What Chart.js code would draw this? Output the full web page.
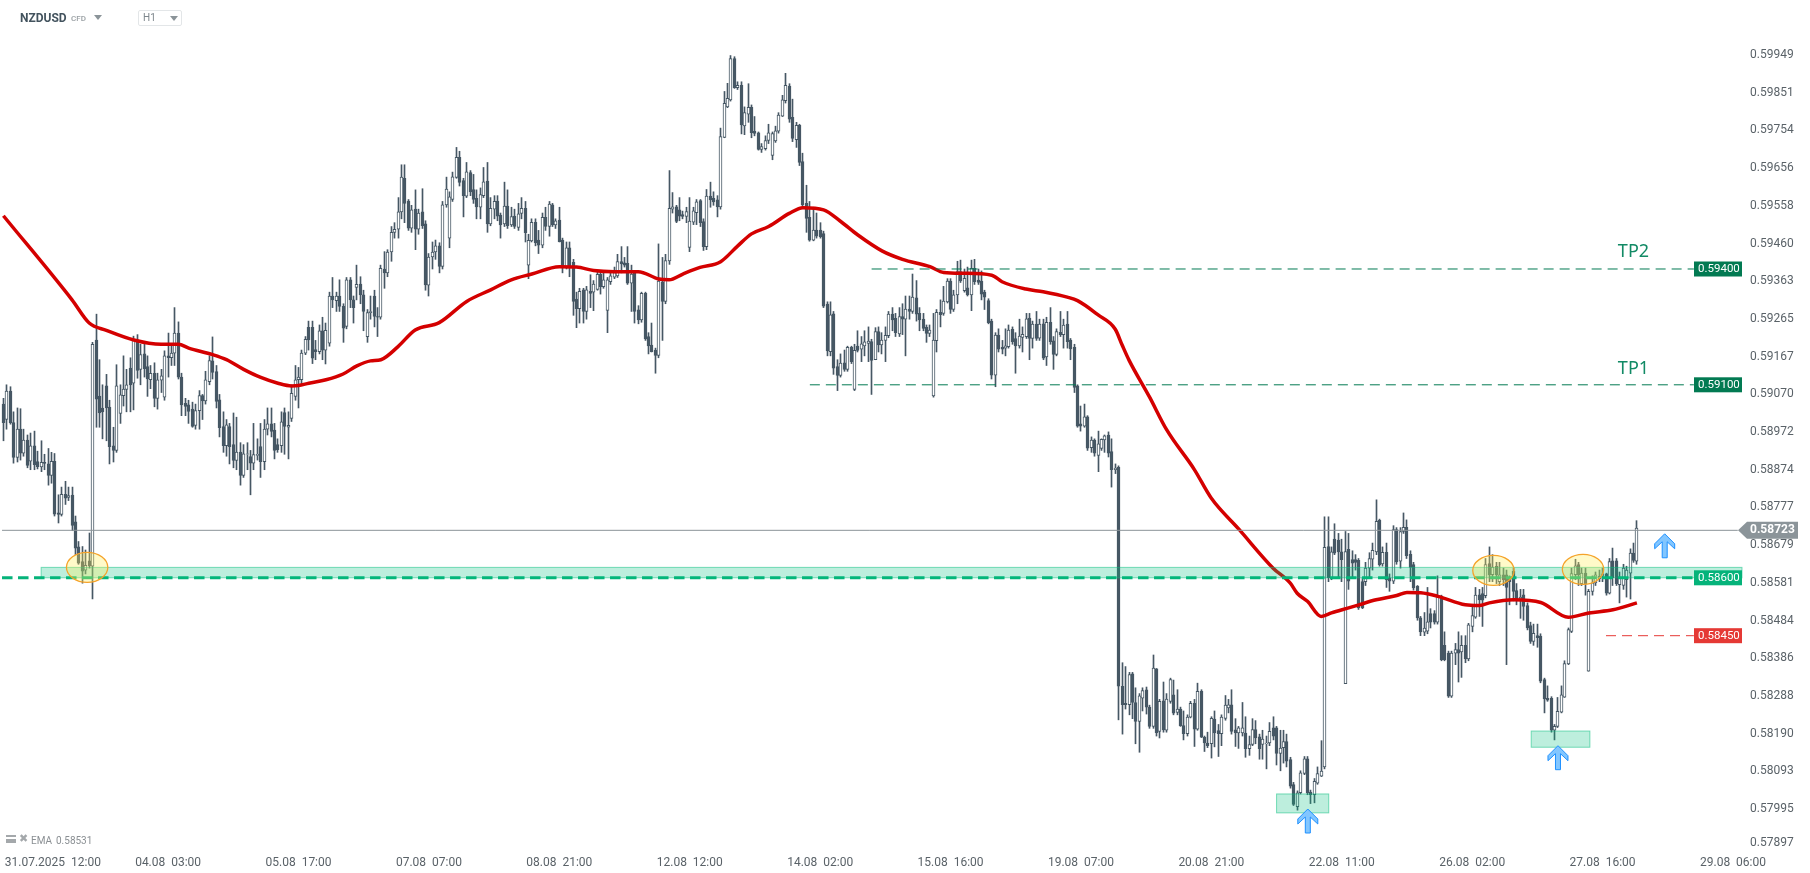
<!DOCTYPE html>
<html>
<head>
<meta charset="utf-8">
<title>NZDUSD H1</title>
<script src="https://cdn.jsdelivr.net/npm/chart.js@4/dist/chart.umd.min.js"></script>
<style>
html,body{margin:0;padding:0;background:#fff;overflow:hidden;}
#wrap{position:relative;width:1810px;height:873px;font-family:Roboto,sans-serif;}
canvas{position:absolute;left:0;top:0;}
.abs{position:absolute;white-space:nowrap;}
.caret{position:absolute;width:0;height:0;border-left:4px solid transparent;border-right:4px solid transparent;border-top:5px solid #8b9499;}
</style>
</head>
<body>
<div id="wrap">
  <canvas id="c" width="1810" height="873"></canvas>
  <div class="abs" style="left:20px;top:11px;font-size:12px;font-weight:700;color:#43535e;">NZDUSD</div>
  <div class="abs" style="left:71px;top:14px;font-size:8px;font-weight:500;color:#9aa0a4;">CFD</div>
  <div class="caret" style="left:94px;top:15px;"></div>
  <div class="abs" style="left:138px;top:10px;width:42px;height:14px;border:1px solid #e3e6e8;border-radius:2px;"></div>
  <div class="abs" style="left:143px;top:12px;font-size:10px;color:#7d868c;">H1</div>
  <div class="caret" style="left:170px;top:16px;"></div>
  <div class="abs" style="left:6px;top:835px;width:10px;height:2px;border-top:2px solid #a4a8ab;border-bottom:2px solid #a4a8ab;"></div>
  <div class="abs" style="left:6px;top:841px;width:10px;height:2px;background:#a4a8ab;"></div>
  <div class="abs" style="left:19px;top:832px;font-size:11px;color:#a4a8ab;font-family:'DejaVu Sans';">✖</div>
  <div class="abs" style="left:31px;top:835px;font-size:10px;color:#8a8f93;">EMA</div>
  <div class="abs" style="left:56px;top:835px;font-size:10px;color:#8a8f93;">0.58531</div>
</div>
<script>
// prices in 1/100000 (10 bars a row)
const opens = [
59050,59010,59084,59002,58912,58985,58923,58957,58902,58942,
58901,58887,58899,58895,58865,58902,58768,58764,58816,58808,
58814,58745,58680,58642,58620,58644,58630,59216,59071,59040,
59097,59042,58942,58930,59026,59072,59088,59143,59104,59216,
59140,59180,59147,59113,59130,59065,59112,59068,59175,59170,
59182,59234,59120,59052,59048,59037,58995,59033,59072,59058,
59108,59162,59134,59061,58992,58942,58992,58945,58904,58926,
58865,58920,58914,58897,58917,58940,58901,58985,58999,58983,
58945,58942,59028,58990,59013,59070,59113,59113,59182,59249,
59249,59191,59186,59240,59190,59208,59330,59318,59330,59303,
59251,59372,59320,59352,59361,59333,59225,59287,59330,59277,
59275,59400,59390,59444,59495,59503,59548,59635,59576,59506,
59555,59503,59548,59517,59358,59431,59444,59460,59407,59566,
59480,59580,59637,59689,59629,59589,59650,59606,59583,59560,
59590,59628,59517,59555,59576,59540,59517,59563,59514,59537,
59508,59544,59557,59410,59473,59521,59475,59462,59534,59510,
59566,59514,59527,59475,59405,59455,59417,59322,59297,59346,
59290,59342,59340,59347,59386,59354,59293,59367,59379,59382,
59419,59416,59415,59363,59389,59294,59268,59337,59225,59203,
59190,59176,59367,59316,59421,59555,59561,59553,59541,59536,
59456,59521,59546,59577,59523,59458,59589,59583,59579,59561,
59741,59820,59838,59945,59870,59876,59771,59801,59819,59757,
59753,59710,59712,59733,59694,59732,59757,59796,59836,59874,
59793,59735,59772,59678,59570,59534,59475,59501,59501,59492,
59309,59186,59284,59147,59124,59157,59140,59197,59088,59200,
59192,59201,59207,59212,59165,59238,59203,59215,59227,59283,
59272,59232,59277,59270,59296,59290,59325,59285,59270,59249,
59233,59071,59214,59288,59285,59315,59369,59295,59333,59393,
59344,59351,59333,59402,59371,59369,59340,59318,59265,59125,
59229,59197,59195,59199,59244,59220,59201,59223,59225,59273,
59220,59257,59221,59258,59172,59262,59214,59179,59236,59230,
59257,59216,59197,59097,58999,58993,59017,58937,58957,58917,
58935,58957,58970,58927,58880,58886,58319,58275,58271,58351,
58277,58228,58288,58310,58265,58215,58364,58202,58281,58205,
58280,58297,58251,58260,58217,58196,58239,58275,58208,58306,
58187,58172,58170,58234,58204,58196,58236,58263,58271,58206,
58198,58198,58198,58157,58168,58207,58188,58168,58170,58172,
58211,58211,58145,58160,58176,58129,58064,58007,58043,58093,
58131,58045,58038,58068,58086,58110,58681,58600,58700,58698,
58667,58326,58674,58647,58647,58645,58590,58590,58625,58648,
58667,58749,58636,58666,58600,58591,58725,58643,58720,58731,
58661,58634,58578,58496,58459,58462,58507,58507,58485,58552,
58425,58405,58293,58405,58414,58408,58425,58390,58474,58498,
58556,58559,58554,58637,58608,58630,58590,58608,58608,58600,
58617,58567,58545,58556,58528,58476,58435,58450,58449,58336,
58288,58288,58205,58215,58252,58291,58377,58461,58608,58634,
58585,58612,58358,58565,58587,58598,58604,58610,58560,58644,
58644,58582,58580,58595,58612,58664,58643];
const closes = [
59002,59084,59002,58912,58985,58923,58957,58891,58942,58893,
58888,58899,58896,58865,58902,58765,58764,58816,58806,58813,
58736,58677,58638,58617,58632,58631,59205,59063,59027,59030,
59040,58940,58930,59097,59074,59089,59100,59100,59216,59137,
59178,59142,59115,59130,59065,59113,59123,59175,59170,59182,
59234,59120,59048,59044,59031,58992,59033,59072,59058,59113,
59163,59132,59057,58989,58942,58996,58940,58904,58926,58865,
58921,58921,58897,58919,58920,58901,58985,58999,58979,58930,
58932,59004,58992,58995,59078,59113,59120,59182,59218,59216,
59169,59186,59240,59190,59241,59330,59320,59330,59303,59247,
59372,59320,59300,59360,59333,59290,59287,59290,59277,59275,
59402,59390,59444,59495,59503,59548,59638,59570,59506,59553,
59503,59545,59512,59359,59431,59444,59460,59407,59566,59607,
59587,59639,59689,59624,59590,59652,59600,59580,59561,59593,
59626,59517,59557,59575,59537,59514,59563,59512,59536,59510,
59543,59557,59494,59474,59521,59468,59462,59534,59510,59568,
59514,59525,59471,59408,59455,59408,59316,59297,59342,59290,
59346,59337,59361,59386,59354,59372,59372,59382,59391,59419,
59413,59410,59363,59387,59290,59268,59337,59219,59201,59186,
59176,59369,59316,59422,59557,59561,59523,59537,59536,59549,
59524,59551,59574,59520,59458,59589,59579,59574,59561,59743,
59829,59842,59945,59870,59876,59773,59805,59819,59753,59751,
59710,59717,59733,59753,59751,59758,59799,59838,59876,59788,
59738,59772,59676,59566,59531,59475,59501,59485,59484,59304,
59188,59281,59143,59124,59156,59140,59197,59160,59189,59189,
59206,59211,59213,59163,59238,59203,59216,59228,59283,59268,
59235,59277,59270,59296,59290,59327,59283,59268,59246,59233,
59242,59216,59288,59282,59317,59369,59295,59333,59393,59369,
59376,59333,59402,59367,59365,59335,59327,59261,59125,59229,
59192,59192,59201,59242,59212,59201,59226,59231,59271,59220,
59257,59220,59257,59169,59262,59212,59179,59238,59230,59255,
59212,59193,59093,58993,58993,59017,58936,58957,58923,58947,
58959,58968,58923,58880,58884,58319,58271,58271,58349,58277,
58228,58294,58308,58265,58215,58366,58199,58280,58206,58286,
58336,58249,58260,58217,58196,58239,58275,58208,58306,58187,
58172,58165,58236,58198,58196,58239,58270,58271,58202,58198,
58211,58211,58157,58168,58207,58185,58157,58182,58172,58202,
58190,58145,58159,58176,58125,58060,58013,58043,58095,58131,
58043,58038,58073,58093,58099,58679,58600,58667,58664,58667,
58647,58668,58591,58638,58640,58522,58522,58625,58650,58671,
58746,58634,58666,58595,58591,58725,58641,58720,58731,58657,
58627,58574,58496,58460,58470,58486,58485,58485,58552,58388,
58388,58293,58405,58414,58405,58425,58390,58478,58502,58555,
58543,58542,58634,58608,58628,58608,58608,58595,58575,58590,
58565,58545,58550,58526,58470,58435,58456,58445,58332,58286,
58283,58205,58215,58254,58297,58378,58466,58611,58631,58608,
58612,58585,58565,58587,58608,58604,58610,58560,58642,58600,
58585,58600,58625,58620,58664,58645,58729];
const highs = [
59065,59100,59095,59030,59040,59038,58985,58970,58975,58980,
58928,58955,58920,58935,58925,58922,58815,58835,58850,58835,
58835,58760,58694,58681,58672,58716,59210,59283,59165,59100,
59127,59060,58990,59152,59100,59175,59140,59170,59226,59230,
59205,59210,59175,59150,59157,59130,59140,59188,59234,59200,
59300,59263,59130,59065,59060,59055,59050,59085,59075,59135,
59175,59224,59150,59075,59030,59010,59000,59027,59016,58950,
58945,58950,58930,59000,58960,59000,59010,59040,59040,59000,
58960,59030,59040,59030,59100,59150,59145,59190,59225,59265,
59265,59215,59255,59275,59260,59340,59378,59340,59372,59310,
59378,59378,59330,59410,59380,59345,59295,59330,59345,59300,
59410,59445,59450,59510,59520,59585,59670,59670,59580,59565,
59605,59555,59608,59525,59440,59470,59475,59468,59575,59638,
59600,59651,59715,59705,59635,59676,59655,59645,59605,59610,
59663,59676,59585,59590,59590,59545,59625,59605,59560,59555,
59570,59585,59575,59490,59530,59530,59500,59545,59560,59575,
59570,59530,59560,59480,59470,59470,59425,59340,59350,59350,
59355,59385,59370,59395,59395,59395,59378,59395,59405,59438,
59458,59430,59458,59410,59395,59305,59340,59340,59235,59260,
59195,59465,59430,59438,59655,59598,59565,59585,59550,59560,
59585,59560,59580,59580,59530,59606,59625,59600,59590,59765,
59860,59881,59953,59950,59885,59885,59820,59880,59825,59795,
59755,59725,59745,59775,59755,59770,59805,59850,59907,59880,
59840,59780,59775,59700,59617,59575,59560,59545,59520,59498,
59315,59315,59290,59165,59180,59190,59200,59200,59205,59240,
59225,59240,59250,59218,59248,59250,59235,59250,59290,59300,
59285,59300,59310,59330,59330,59387,59370,59300,59285,59255,
59255,59285,59295,59320,59355,59375,59375,59345,59420,59423,
59400,59405,59423,59425,59400,59395,59345,59323,59270,59235,
59245,59215,59245,59255,59250,59235,59270,59250,59285,59285,
59265,59290,59270,59270,59275,59300,59225,59245,59290,59270,
59290,59220,59205,59100,59045,59050,59020,58965,58960,58980,
58960,58970,58978,58960,58895,58890,58380,58370,58355,58355,
58315,58300,58315,58317,58270,58400,58365,58285,58330,58300,
58340,58335,58310,58265,58255,58245,58280,58285,58327,58310,
58190,58200,58240,58255,58220,58245,58295,58285,58310,58235,
58215,58277,58240,58190,58235,58230,58195,58205,58190,58225,
58240,58215,58205,58205,58195,58135,58070,58048,58100,58137,
58137,58050,58080,58110,58178,58758,58758,58680,58740,58715,
58700,58720,58715,58670,58660,58650,58600,58640,58665,58690,
58802,58752,58680,58690,58610,58735,58730,58730,58768,58750,
58670,58640,58580,58500,58510,58575,58520,58515,58605,58555,
58460,58410,58410,58430,58460,58450,58450,58482,58525,58575,
58570,58575,58650,58680,58660,58640,58640,58625,58620,58605,
58625,58585,58570,58570,58535,58485,58480,58480,58455,58340,
58320,58292,58220,58290,58320,58385,58470,58625,58648,58640,
58625,58625,58570,58605,58615,58620,58625,58612,58650,58677,
58650,58615,58635,58630,58675,58690,58748];
const lows = [
58955,58985,58998,58897,58900,58905,58915,58885,58880,58880,
58882,58875,58880,58840,58845,58760,58742,58760,58790,58800,
58722,58660,58635,58586,58610,58625,58545,58990,58990,58960,
58955,58895,58900,58925,59000,59045,59030,59030,59035,59117,
59100,59120,59070,59090,59043,59037,59080,59060,59120,59150,
59150,59115,59020,59020,59000,58990,58985,58985,59010,59050,
59100,59115,59040,58965,58925,58915,58895,58885,58880,58840,
58860,58880,58815,58880,58905,58860,58880,58970,58965,58908,
58925,58925,58920,58908,59005,59060,59040,59100,59178,59190,
59155,59165,59180,59165,59154,59200,59300,59290,59290,59210,
59245,59300,59260,59320,59310,59240,59210,59270,59250,59225,
59270,59350,59380,59420,59480,59480,59530,59520,59500,59495,
59450,59490,59505,59345,59330,59400,59425,59390,59400,59560,
59455,59575,59635,59615,59535,59585,59590,59570,59530,59530,
59585,59495,59512,59530,59525,59480,59510,59505,59510,59505,
59500,59530,59470,59375,59470,59460,59440,59455,59500,59485,
59510,59505,59470,59390,59400,59380,59280,59248,59260,59260,
59270,59300,59292,59345,59335,59350,59235,59360,59375,59378,
59390,59405,59360,59290,59260,59258,59262,59215,59180,59185,
59130,59170,59215,59310,59412,59545,59520,59525,59530,59520,
59445,59515,59515,59510,59448,59450,59560,59565,59535,59555,
59740,59818,59835,59868,59865,59750,59748,59780,59740,59745,
59708,59702,59708,59725,59683,59728,59752,59795,59830,59780,
59730,59715,59668,59560,59495,59472,59473,59480,59480,59300,
59175,59175,59127,59085,59120,59135,59135,59155,59085,59185,
59160,59175,59160,59075,59165,59185,59180,59160,59222,59240,
59225,59225,59230,59175,59270,59285,59265,59240,59240,59210,
59225,59068,59185,59250,59280,59312,59285,59290,59310,59365,
59340,59330,59292,59360,59360,59320,59295,59258,59115,59095,
59185,59180,59175,59195,59205,59130,59195,59185,59220,59165,
59195,59215,59215,59165,59150,59205,59140,59175,59225,59195,
59195,59165,59080,58990,58980,58990,58930,58925,58915,58875,
58930,58925,58913,58835,58870,58232,58195,58260,58245,58235,
58170,58148,58255,58247,58210,58210,58190,58185,58200,58200,
58275,58245,58245,58215,58180,58190,58237,58163,58205,58186,
58150,58160,58133,58162,58137,58165,58231,58250,58195,58163,
58158,58190,58135,58140,58165,58170,58130,58130,58105,58165,
58180,58115,58100,58120,58110,58055,58010,57998,58040,58090,
58038,58015,58017,58065,58085,58105,58590,58595,58660,58600,
58590,58326,58570,58600,58620,58518,58520,58580,58600,58620,
58660,58630,58630,58575,58565,58585,58635,58625,58715,58650,
58590,58568,58490,58450,58450,58455,58470,58480,58480,58385,
58385,58290,58290,58375,58330,58342,58380,58385,58460,58495,
58500,58474,58548,58590,58590,58585,58580,58580,58375,58530,
58540,58530,58495,58490,58465,58430,58425,58420,58328,58250,
58280,58200,58180,58212,58250,58290,58375,58458,58595,58580,
58580,58555,58358,58555,58580,58590,58590,58555,58558,58580,
58580,58535,58570,58550,58545,58640,58635];

// EMA read at the bars where it bends
const emaBars = [0,20,25,30,38,46,51,54,61,65,70,75,80,84,86,89,94,99,103,107,110,115,120,127,135,142,148,154,162,167,172,178,185,191,194,198,203,209,214,218,223,229,233,239,244,249,256,262,270,274,280,288,291,298,303,310,313,319,324,326,328,334,339,347,352,360,370,375,377,380,384,387,392,395,400,406,409,413,418,426,430,433,440,448,456,462,469,476];
const emaValues = [59538,59320,59260,59241,59216,59205,59205,59195,59178,59165,59140,59119,59104,59097,59098,59104,59113,59128,59149,59162,59165,59199,59242,59261,59316,59346,59372,59387,59406,59405,59396,59393,59393,59374,59372,59387,59404,59419,59460,59491,59510,59544,59559,59553,59523,59488,59447,59425,59406,59391,59389,59384,59367,59348,59341,59327,59318,59281,59244,59203,59164,59068,58983,58881,58806,58726,58625,58586,58560,58539,58500,58509,58522,58530,58543,58554,58562,58561,58552,58530,58528,58535,58543,58536,58498,58509,58517,58535];

const xTickBars = [14.4,48,86,124,162,200,238,276,314,352,390,428,466,504];  // first one pushed in, the label would be cut at the edge
const xTickLabels = ['31.07.2025  12:00','04.08  03:00','05.08  17:00','07.08  07:00','08.08  21:00','12.08  12:00','14.08  02:00','15.08  16:00','19.08  07:00','20.08  21:00','22.08  11:00','26.08  02:00','27.08  16:00','29.08  06:00'];
const yTickLabels = ['0.59949','0.59851','0.59754','0.59656','0.59558','0.59460','0.59363','0.59265','0.59167','0.59070','0.58972','0.58874','0.58777','0.58679','0.58581','0.58484','0.58386','0.58288','0.58190','0.58093','0.57995','0.57897'];

const lastPrice = 0.58723;
const tp2Price = 0.594, tp1Price = 0.591, supportPrice = 0.586, stopPrice = 0.5845;
const tp2Start = 253, tp1Start = 235, stopStart = 467, supportStart = -0.4, levelEnd = 492.6, lastEnd = 505.4;

// [fromBar,toBar,topPrice,bottomPrice]
const zones = [[11,507.5,0.58627,0.58600],[371,386.2,0.58040,0.57991],[445.2,462.3,0.58203,0.58161]];
// [bar,price]
const circles = [[24.4,0.58627],[434.2,0.58619],[460.3,0.58622]];
const arrows = [[380.1,0.58001],[453,0.58165],[484.1,0.58714]];
const tags = [[tp2Price,'#027a52'],[tp1Price,'#027a52'],[supportPrice,'#05b37a'],[stopPrice,'#e53935']];

const FONT = 'Roboto, sans-serif';
const DARK = '#465764';

const wickData = highs.map((h,i)=>({x:i,y:[lows[i]/1e5,h/1e5]}));
const bodyData = opens.map((o,i)=>({x:i,y:[o/1e5,closes[i]/1e5]}));
const emaData = emaBars.map((b,i)=>({x:b,y:emaValues[i]/1e5}));

function level(from,to,price,color,width,dash){
  return {type:'line',data:[{x:from,y:price},{x:to,y:price}],borderColor:color,borderWidth:width,borderDash:dash,pointRadius:0,order:1};
}

const overlay = {
  id:'overlay',
  // candles sit on whole pixels so the wicks stay sharp
  beforeDatasetsDraw(chart){
    chart.data.datasets.forEach((d,n)=>{
      if(d.type==='line') return;
      chart.getDatasetMeta(n).data.forEach(b=>{ b.x=Math.floor(b.x)+0.5; });
    });
  },
  afterDatasetsDraw(chart){
    const {ctx,scales:{x,y}} = chart;
    ctx.save();
    zones.forEach(z=>{
      const l=x.getPixelForValue(z[0]), r=Math.min(x.getPixelForValue(z[1]),1742), t=y.getPixelForValue(z[2]), b=y.getPixelForValue(z[3]);
      ctx.fillStyle='rgba(0,190,124,.26)';
      ctx.strokeStyle='rgba(0,190,124,.5)';
      ctx.lineWidth=1;
      ctx.fillRect(l,t,r-l,b-t);
      ctx.strokeRect(l,t,r-l,b-t);
    });
    circles.forEach(c=>{
      ctx.beginPath();
      ctx.ellipse(x.getPixelForValue(c[0]),y.getPixelForValue(c[1]),20.7,15,0,0,Math.PI*2);
      ctx.fillStyle='rgba(255,240,90,.33)';
      ctx.fill();
      ctx.strokeStyle='#f5a32a';
      ctx.lineWidth=1.3;
      ctx.stroke();
    });
    arrows.forEach(a=>{
      const ax=x.getPixelForValue(a[0]), ay=y.getPixelForValue(a[1]);
      const shape=[[0,0],[10,10],[10,15],[2.5,8],[2.5,24],[-2.5,24],[-2.5,8],[-10,15],[-10,10]];
      ctx.beginPath();
      shape.forEach((p,i)=>i?ctx.lineTo(ax+p[0],ay+p[1]):ctx.moveTo(ax+p[0],ay+p[1]));
      ctx.closePath();
      ctx.fillStyle='#82c6ff';
      ctx.fill();
      ctx.strokeStyle='#1e90ff';
      ctx.lineWidth=1;
      ctx.stroke();
    });
    ctx.fillStyle='#128a65';
    ctx.font='18px "Noto Sans"';
    ctx.textAlign='center';
    ctx.textBaseline='middle';
    ctx.fillText('TP2',x.getPixelForValue(475),y.getPixelForValue(0.59444));
    ctx.fillText('TP1',x.getPixelForValue(475),y.getPixelForValue(0.59141));
    ctx.restore();
  },
  afterDraw(chart){
    const {ctx,scales:{x,y}} = chart;
    ctx.save();
    ctx.textBaseline='middle';
    ctx.textAlign='left';
    ctx.font='11.5px '+FONT;
    tags.forEach(t=>{
      const ty=y.getPixelForValue(t[0]);
      ctx.fillStyle=t[1];
      ctx.fillRect(1694,ty-7.5,48,15);
      ctx.fillStyle='#fff';
      ctx.fillText(t[0].toFixed(5),1698,ty);
    });
    // last price tag
    const ly=y.getPixelForValue(lastPrice);
    ctx.fillStyle='#8b9499';
    ctx.beginPath();
    ctx.moveTo(1738,ly);
    ctx.lineTo(1747,ly-8.5);
    ctx.lineTo(1798,ly-8.5);
    ctx.lineTo(1798,ly+8.5);
    ctx.lineTo(1747,ly+8.5);
    ctx.closePath();
    ctx.fill();
    ctx.fillStyle='#fff';
    ctx.font='700 12px '+FONT;
    ctx.fillText(lastPrice.toFixed(5),1750,ly);
    ctx.restore();
  }
};

new Chart(document.getElementById('c'),{
  type:'bar',
  data:{
    datasets:[
      {type:'line',data:emaData,borderColor:'#d40000',borderWidth:3.5,pointRadius:0,cubicInterpolationMode:'monotone',order:2},
      level(supportStart,lastEnd,lastPrice,'#8b9499',1,[]),
      level(supportStart,levelEnd,supportPrice,'#05b37a',3,[10.5,5.5]),
      level(tp2Start,levelEnd,tp2Price,'#027a52',1,[10,6]),
      level(tp1Start,levelEnd,tp1Price,'#027a52',1,[10,6]),
      level(stopStart,levelEnd,stopPrice,'#e53935',1,[10,6]),
      {data:bodyData,grouped:false,barThickness:3,borderWidth:1,borderSkipped:false,borderColor:DARK,order:3,
        backgroundColor:c=>closes[c.dataIndex]>opens[c.dataIndex]?'#fff':DARK},
      {data:wickData,grouped:false,barThickness:1,borderWidth:0,backgroundColor:DARK,order:4}
    ]
  },
  options:{
    responsive:false,
    animation:false,
    devicePixelRatio:1,
    events:[],
    layout:{padding:0},
    plugins:{legend:{display:false},tooltip:{enabled:false},title:{display:false}},
    scales:{
      x:{
        type:'linear',
        offset:false,
        min:-0.99,
        max:507.5,
        grid:{display:false},
        border:{display:false},
        afterBuildTicks:s=>{s.ticks=xTickBars.map(v=>({value:v}));},
        afterFit:s=>{s.height=22;s.paddingLeft=0;s.paddingRight=0;},
        ticks:{
          autoSkip:false,
          maxRotation:0,
          padding:-3,
          color:'#5a6268',
          font:{family:FONT,size:12},
          callback:(v)=>xTickLabels[xTickBars.indexOf(v)]
        }
      },
      y:{
        position:'right',
        min:0.578922,
        max:0.600969,
        grid:{display:false,drawTicks:false},
        border:{display:false},
        // bottom label sits a little higher than its price, as in the terminal
        afterBuildTicks:s=>{s.ticks=yTickLabels.map((l,i)=>({value:i===yTickLabels.length-1?0.57907:parseFloat(l)}));},
        afterFit:s=>{s.width=65;s.paddingTop=0;s.paddingBottom=0;},
        ticks:{
          autoSkip:false,
          padding:5,
          labelOffset:-2,
          crossAlign:'near',
          color:'#5a6268',
          font:{family:FONT,size:12},
          callback:(v,i)=>yTickLabels[i]
        }
      }
    }
  },
  plugins:[overlay]
});
</script>
</body>
</html>
